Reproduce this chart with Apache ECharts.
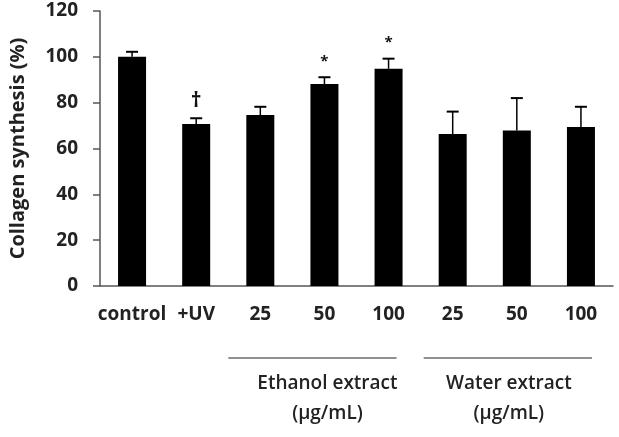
<!DOCTYPE html>
<html><head><meta charset="utf-8">
<script src="https://cdn.jsdelivr.net/npm/echarts@6/dist/echarts.min.js"></script>
<style>html,body{margin:0;padding:0;background:#fff}#c{width:619px;height:437px}</style>
</head><body><div id="c"></div>
<script>
var categories = ['control', '+UV', '25', '50', '100', '25', '50', '100'];
var means = [100, 70.7, 74.6, 88.1, 94.8, 66.3, 67.9, 69.4];
var sds = [2.2, 2.5, 3.6, 3.0, 4.4, 9.8, 14.1, 8.8];
var marks = ['', '\u2020', '', '*', '*', '', '', ''];
var yTicks = [0, 20, 40, 60, 80, 100, 120];
var groups = [
  { name: 'Ethanol extract', unit: '(\u03bcg/mL)', from: 2, to: 4 },
  { name: 'Water extract', unit: '(\u03bcg/mL)', from: 5, to: 7 }
];

var FONT = '"Open Sans", "Noto Sans", sans-serif';
var chart = echarts.init(document.getElementById('c'), null, { renderer: 'canvas' });

var errData = means.map(function (m, i) { return [i, m, m + sds[i], marks[i]]; });

chart.setOption({
  animation: false,
  backgroundColor: '#fff',
  grid: { left: 99, right: 6, top: 11, bottom: 151 },
  xAxis: {
    type: 'category',
    data: categories,
    axisLine: { lineStyle: { color: '#555', width: 1.5 } },
    axisTick: { show: false },
    axisLabel: { color: '#222', fontFamily: FONT, fontWeight: 'bold', fontSize: 19, margin: 19, interval: 0 }
  },
  yAxis: {
    type: 'value',
    min: yTicks[0], max: yTicks[yTicks.length - 1], interval: 20,
    name: 'Collagen synthesis (%)',
    nameLocation: 'middle', nameGap: 72, nameRotate: 90,
    nameTextStyle: { color: '#222', fontFamily: FONT, fontWeight: 'bold', fontSize: 20 },
    axisLine: { show: true, lineStyle: { color: '#555', width: 1.5 } },
    axisTick: { show: true, length: 7, lineStyle: { color: '#555', width: 1.5 } },
    splitLine: { show: false },
    axisLabel: { color: '#222', fontFamily: FONT, fontWeight: 'bold', fontSize: 19, margin: 22 }
  },
  series: [
    {
      type: 'bar', data: means, barWidth: 28,
      itemStyle: { color: '#000' }, z: 2
    },
    {
      type: 'custom', z: 3,
      data: errData,
      renderItem: function (params, api) {
        var x = api.value(0);
        var base = api.coord([x, api.value(1)]);
        var top = api.coord([x, api.value(2)]);
        var children = [
          { type: 'line', shape: { x1: top[0], y1: base[1], x2: top[0], y2: top[1] }, style: { stroke: '#000', lineWidth: 1.5 } },
          { type: 'line', shape: { x1: top[0] - 6, y1: top[1], x2: top[0] + 6, y2: top[1] }, style: { stroke: '#000', lineWidth: 2 } }
        ];
        var m = api.value(3);
        if (m) {
          var isStar = m === '*';
          children.push({
            type: 'text',
            style: {
              text: m, x: top[0], y: top[1] - (isStar ? 8 : 7),
              align: 'center', verticalAlign: 'bottom',
              fill: '#111', font: (isStar ? 'bold 15px ' : 'bold 21px ') + FONT
            }
          });
        }
        return { type: 'group', children: children };
      }
    }
  ]
});

function drawGroups() {
  var els = [];
  groups.forEach(function (g, k) {
    var a = chart.convertToPixel({ xAxisIndex: 0 }, g.from);
    var b = chart.convertToPixel({ xAxisIndex: 0 }, g.to);
    var y0 = chart.convertToPixel({ yAxisIndex: 0 }, 0);
    var x1 = a - 32 + (k ? 3 : 0), x2 = b + 8 + (k ? 3 : 0);
    var cx = (a + b) / 2 + (k ? -8 : 3);
    els.push({ type: 'line', shape: { x1: x1, y1: y0 + 72, x2: x2, y2: y0 + 72 }, style: { stroke: '#222', lineWidth: 1.2 } });
    els.push({ type: 'text', style: { text: g.name, x: cx, y: y0 + 98, align: 'center', verticalAlign: 'middle', fill: '#222', font: '600 19px ' + FONT } });
    els.push({ type: 'text', style: { text: g.unit, x: cx, y: y0 + 128, align: 'center', verticalAlign: 'middle', fill: '#222', font: '600 19px ' + FONT } });
  });
  chart.setOption({ graphic: els });
}
drawGroups();
</script></body></html>
